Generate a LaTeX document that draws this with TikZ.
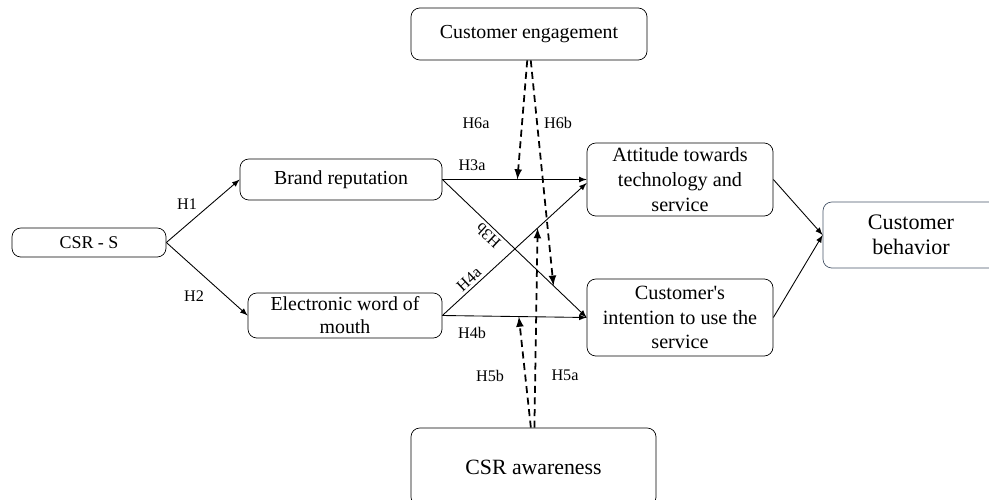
\documentclass[tikz,border=0pt]{standalone}
\usepackage{fontspec}
\setmainfont{Liberation Serif}
\usetikzlibrary{arrows}
\usetikzlibrary{positioning}

\definecolor{slateedge}{RGB}{70,84,104}

\tikzset{
  box/.style={draw, rounded corners=5pt, align=center, inner sep=2pt,
    font=\fontsize{11.3}{14}\selectfont},
  link/.style={-latex, line width=0.5pt},
  mod/.style={-latex, line width=1pt, dash pattern=on 4pt off 2.6pt},
  hyp/.style={font=\fontsize{9.2}{10}\selectfont, inner sep=1pt}
}

\begin{document}
\begin{tikzpicture}

\useasboundingbox (0,0) rectangle (19.78,9.98);
\clip (0,0) rectangle (19.78,9.98);

% boxes
\node[box, minimum width=4.72cm, minimum height=1.04cm] (eng) at (10.58,9.30) {Customer engagement};
\node[box, minimum width=3.08cm, minimum height=0.58cm, font=\fontsize{10.2}{12}\selectfont] (csr) at (1.78,5.13) {CSR - S};
\node[box, minimum width=4.04cm, minimum height=0.82cm] (brand) at (6.82,6.39) {Brand reputation};
\node[box, minimum width=3.88cm, minimum height=0.90cm, font=\fontsize{11.3}{13}\selectfont] (ewom) at (6.90,3.67) {Electronic word of\\mouth};
\node[box, minimum width=3.72cm, minimum height=1.46cm, font=\fontsize{11.5}{14}\selectfont] (att) at (13.60,6.39) {Attitude towards\\technology and\\service};
\node[box, minimum width=3.72cm, minimum height=1.54cm, font=\fontsize{11.5}{14}\selectfont] (intent) at (13.60,3.63) {Customer\textquotesingle s\\intention to use the\\service};
\node[box, draw=slateedge, minimum width=3.52cm, minimum height=1.32cm, font=\fontsize{12.6}{14.3}\selectfont] (behav) at (18.22,5.28) {Customer\\behavior};
\node[box, minimum width=4.90cm, minimum height=1.56cm, font=\fontsize{12.4}{14}\selectfont] (aware) at (10.67,0.64) {CSR awareness};

% direct paths
\draw[link] (csr.east) -- (brand.west);
\draw[link] (csr.east) -- (ewom.west);
\draw[link] (brand.east) -- coordinate[pos=0.52] (h3a) (att.west);
\draw[link] (brand.east) -- coordinate[pos=0.77] (h3b) (intent.west);
\draw[link] (ewom.east) -- coordinate[pos=0.66] (h4a) ([yshift=-2pt]att.west);
\draw[link] (ewom.east) -- coordinate[pos=0.53] (h4b) (intent.west);
\draw[link] (att.east) -- (behav.west);
\draw[link] (intent.east) -- (behav.west);

% moderating paths
\draw[mod] ([xshift=-1pt]eng.south) -- (h3a);
\draw[mod] ([xshift=1pt]eng.south) -- (h3b);
\draw[mod] ([xshift=-1.5pt]aware.north) -- (h4b);
\draw[mod] ([xshift=0.5pt]aware.north) -- (h4a);

% labels
\node[hyp] (lh1) at (3.74,5.90) {H1};
\node[hyp] (lh2) at (3.88,4.06) {H2};
\node[hyp] (lh3a) at (9.44,6.68) {H3a};
\node[hyp, rotate=137] (lh3b) at (9.76,5.26) {H3b};
\node[hyp, rotate=43] (lh4a) at (9.38,4.40) {H4a};
\node[hyp] (lh4b) at (9.44,3.32) {H4b};
\node[hyp] (lh6a) at (9.52,7.52) {H6a};
\node[hyp] (lh6b) at (11.16,7.52) {H6b};
\node[hyp] (lh5b) at (9.80,2.46) {H5b};
\node[hyp] (lh5a) at (11.30,2.48) {H5a};

\end{tikzpicture}
\end{document}
